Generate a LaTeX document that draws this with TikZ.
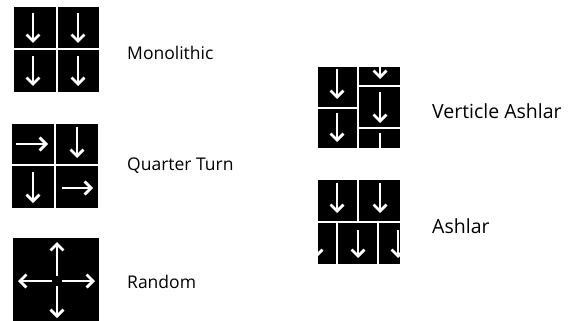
\documentclass[tikz,border=0pt]{standalone}
\usepackage{fontspec}
\setmainfont{Open Sans}
\usetikzlibrary{arrows.meta}
\tikzset{
  lbl/.style={anchor=base west, inner sep=0pt, font=\fontsize{17.5}{20}\selectfont, text=black},
  lblr/.style={lbl, font=\fontsize{19.5}{22}\selectfont},
  blk/.style={fill=black},
  gap/.style={draw=white, line width=1.8pt},
  wa/.style={draw=white, line width=2.8pt, -{Straight Barb[length=6.5pt,width=13pt]}},
  wl/.style={draw=white, line width=2.8pt}
}
\begin{document}
\begin{tikzpicture}[x=1pt,y=-1pt]
\useasboundingbox[fill=white] (0,0) rectangle (579,321);
% Monolithic
\fill[blk] (14,7) rectangle (99,92);
\draw[gap] (57,7)--(57,92) (14,49)--(99,49);
\draw[wa] (33,13)--(33,43);
\draw[wa] (78,13)--(78,43);
\draw[wa] (33,56)--(33,86);
\draw[wa] (78,56)--(78,86);
\node[lbl] (mono) at (127,60) {Monolithic};
% Quarter Turn
\fill[blk] (12,124) rectangle (98,208);
\draw[gap] (55,124)--(55,208) (12,165)--(98,165);
\draw[wa] (16,144)--(48,144);
\draw[wa] (77,127)--(77,158);
\draw[wa] (33,172)--(33,203);
\draw[wa] (62,188)--(93,188);
\node[lbl] (quarter) at (127,171) {Quarter Turn};
% Random
\fill[blk] (13,238) rectangle (99,321);
\draw[wa] (57,276)--(57,242);
\draw[wa] (57,286)--(57,318);
\draw[wa] (52,281)--(18,281);
\draw[wa] (62,281)--(95,281);
\node[lbl] (random) at (127,288) {Random};
% Verticle Ashlar
\begin{scope}
\clip (318,67) rectangle (400,148);
\fill[blk] (318,67) rectangle (400,148);
\draw[gap] (358,67)--(358,148) (318,108)--(358,108) (358,86)--(400,86) (358,128)--(400,128);
\draw[wa] (337,69)--(337,99);
\draw[wa] (337,113)--(337,142);
\draw[wa] (380,48)--(380,79);
\draw[wa] (380,92)--(380,123);
\draw[wl] (380,133)--(380,160);
\end{scope}
\node[lblr] (vashlar) at (432,118) {Verticle Ashlar};
% Ashlar
\begin{scope}
\clip (318,180) rectangle (400,264);
\fill[blk] (318,180) rectangle (400,264);
\draw[gap] (358,180)--(358,222) (318,222)--(400,222) (337,222)--(337,264) (378,222)--(378,264);
\draw[wa] (337,183)--(337,213);
\draw[wa] (380,183)--(380,213);
\draw[wa] (358,230)--(358,258);
\draw[wa] (316,230)--(316,258);
\draw[wa] (398,230)--(398,258);
\end{scope}
\node[lblr] (ashlar) at (432,233) {Ashlar};
\end{tikzpicture}
\end{document}
